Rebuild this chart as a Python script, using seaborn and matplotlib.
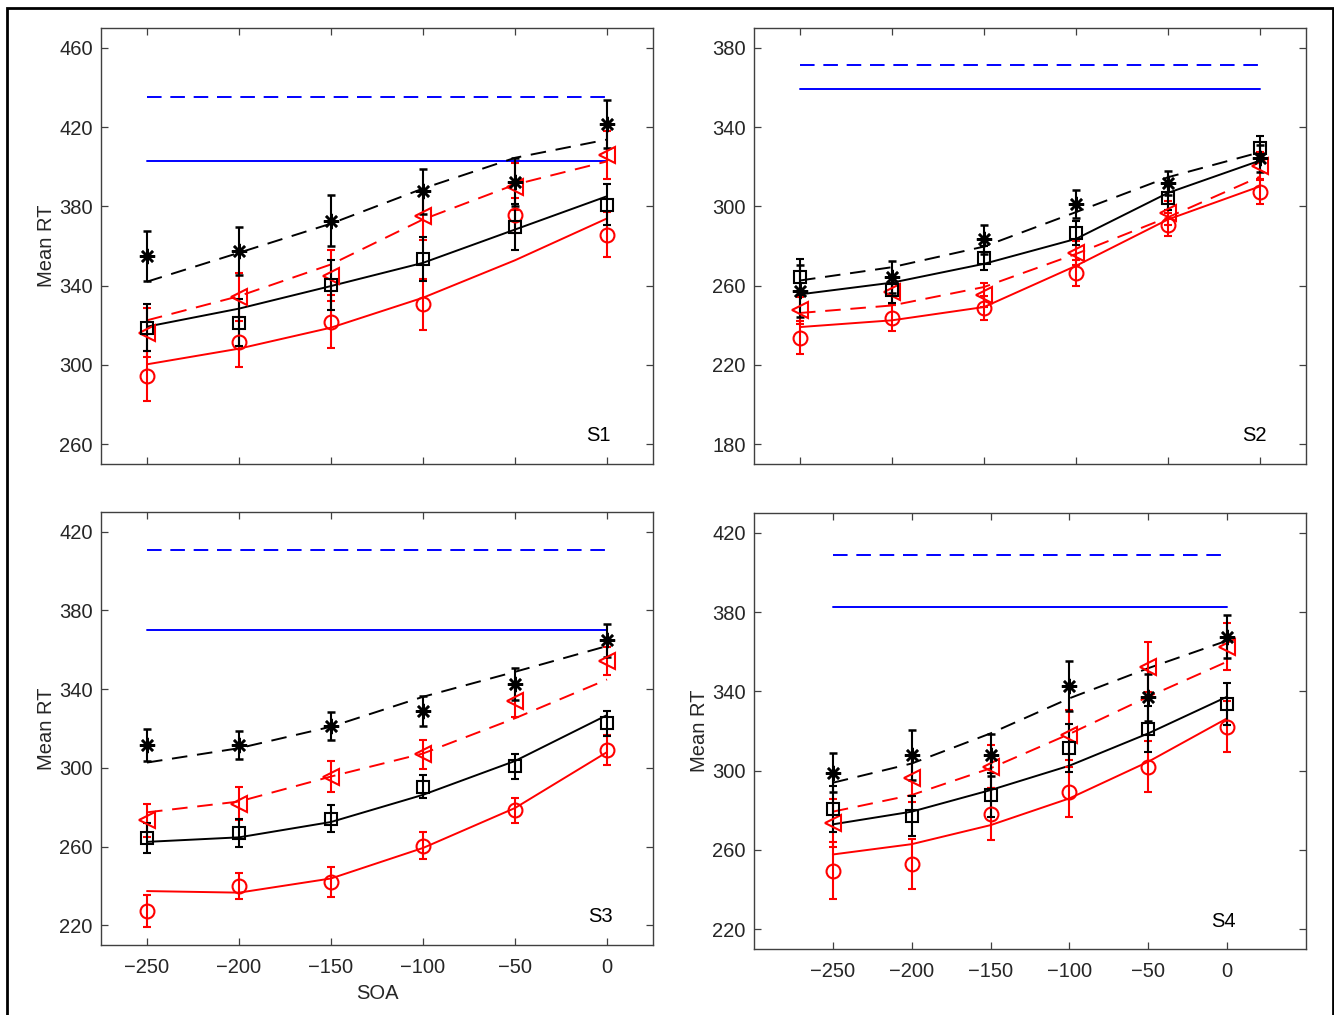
import numpy as np
import pandas as pd
import matplotlib
matplotlib.use("Agg")
import matplotlib.pyplot as plt
from matplotlib.patches import Rectangle
import seaborn as sns

# ---------------- data ----------------
soa = [-250, -200, -150, -100, -50, 0]
subjects = ["S1", "S2", "S3", "S4"]

# black asterisks (data) and black dashed fit
star_mean = [[355.0, 357.4, 372.8, 387.5, 392.3, 421.7],
             [257.3, 264.3, 283.3, 301.2, 311.8, 324.2],
             [311.6, 311.6, 321.4, 328.9, 342.7, 364.8],
             [299.0, 307.9, 307.9, 342.7, 337.0, 367.6]]
star_err = [[12.8, 12.0, 13.0, 11.5, 12.0, 12.0],
            [13.0, 8.0, 7.5, 7.0, 6.0, 7.0],
            [8.0, 7.0, 7.0, 7.5, 8.0, 8.5],
            [10.0, 12.5, 10.5, 12.7, 12.0, 11.0]]
star_fit = [[342.0, 356.6, 371.3, 389.0, 404.5, 413.7],
            [262.6, 269.3, 279.7, 297.1, 314.7, 327.3],
            [302.7, 310.0, 320.9, 336.1, 348.8, 361.9],
            [293.9, 303.6, 318.8, 336.5, 351.7, 365.6]]

# red triangles (data) and red dashed fit
tri_mean = [[316.3, 334.2, 345.1, 375.0, 390.0, 406.0],
            [247.5, 257.0, 255.4, 276.6, 296.7, 320.6],
            [273.3, 281.8, 295.6, 306.9, 333.9, 354.3],
            [273.7, 296.1, 302.0, 318.0, 352.2, 362.6]]
tri_err = [[12.5, 12.0, 13.0, 12.0, 12.0, 12.0],
           [7.0, 7.0, 6.0, 6.0, 6.0, 7.0],
           [8.5, 8.5, 8.0, 7.5, 8.0, 7.0],
           [12.0, 12.0, 11.0, 12.5, 12.5, 12.0]]
tri_fit = [[322.5, 334.7, 350.7, 373.4, 391.0, 402.7],
           [246.2, 250.0, 259.3, 276.0, 294.5, 315.0],
           [277.4, 282.9, 295.6, 307.3, 325.2, 344.9],
           [279.3, 287.7, 301.2, 318.5, 337.3, 355.0]]

# black squares (data) and black solid fit
sq_mean = [[318.8, 321.3, 340.3, 353.5, 369.5, 380.9],
           [264.3, 258.0, 274.1, 286.6, 304.1, 329.5],
           [264.4, 266.9, 274.2, 290.5, 300.7, 322.6],
           [280.4, 277.2, 287.7, 311.3, 321.0, 333.5]]
sq_err = [[12.0, 12.0, 12.5, 11.0, 11.5, 10.5],
          [9.0, 7.0, 6.0, 6.0, 6.0, 6.0],
          [7.5, 7.0, 7.0, 6.0, 6.5, 6.5],
          [11.6, 10.0, 11.0, 12.0, 11.5, 10.7]]
sq_fit = [[319.3, 328.4, 339.8, 351.5, 368.3, 385.1],
          [255.6, 261.5, 271.0, 283.6, 306.8, 323.1],
          [262.4, 264.7, 272.5, 286.3, 303.5, 326.8],
          [272.9, 279.3, 290.2, 302.5, 318.8, 337.3]]

# red circles (data) and red solid fit
circ_mean = [[294.4, 311.7, 321.8, 330.5, 375.4, 365.8],
             [233.8, 243.6, 248.9, 266.5, 290.8, 307.1],
             [227.3, 239.9, 241.9, 260.5, 278.4, 309.1],
             [249.5, 252.8, 278.1, 289.3, 302.0, 322.2]]
circ_err = [[12.5, 12.7, 13.5, 13.0, 9.0, 11.5],
            [8.5, 6.5, 6.0, 6.5, 6.0, 6.0],
            [8.0, 6.5, 7.5, 7.0, 6.5, 7.5],
            [14.4, 12.6, 13.0, 12.6, 13.0, 13.0]]
circ_fit = [[300.3, 308.2, 318.8, 333.9, 352.8, 373.9],
            [239.1, 242.5, 249.2, 270.0, 293.4, 310.1],
            [237.4, 236.6, 243.8, 259.3, 279.6, 308.0],
            [257.7, 262.9, 272.5, 286.0, 304.5, 326.4]]

# blue horizontal reference levels
blue_dashed = [435.0, 371.4, 410.9, 408.9]
blue_solid = [403.0, 359.3, 370.0, 382.8]
blue_span = [-250, 0]

# axis settings
ylims = [(250, 470), (170, 390), (210, 430), (210, 430)]
yticks = [[260, 300, 340, 380, 420, 460],
          [180, 220, 260, 300, 340, 380],
          [220, 260, 300, 340, 380, 420],
          [220, 260, 300, 340, 380, 420]]
xlims = [(-275, 25), (-275, 25), (-275, 25), (-300, 50)]
xticks = [-250, -200, -150, -100, -50, 0]

# ---------------- style ----------------
sns.set_theme(style="ticks")
plt.rcParams['font.family'] = ['Liberation Sans', 'DejaVu Sans']
plt.rcParams['axes.unicode_minus'] = True

W, H = 1334, 1015
fig = plt.figure(figsize=(W / 100, H / 100), dpi=100)
fig.patch.set_facecolor('white')

# pixel boxes: left, top, right, bottom
boxes = [(101, 28, 653, 464), (754, 28, 1306, 464),
         (101, 512, 653, 945), (754, 513, 1306, 949)]
label_pos = [(0.924, 0.066), (0.928, 0.066), (0.928, 0.066), (0.873, 0.064)]

FS = 14.5
TXT = '#262626'
for i, (l, t, r, b) in enumerate(boxes):
    ax = fig.add_axes([l / W, 1 - b / H, (r - l) / W, (b - t) / H])
    ax.set_facecolor('white')

    # blue reference lines
    sns.lineplot(x=blue_span, y=[blue_dashed[i]] * 2, ax=ax, color='blue',
                 linewidth=1.4, linestyle=(0, (7.5, 4.5)), legend=False)
    sns.lineplot(x=blue_span, y=[blue_solid[i]] * 2, ax=ax, color='blue',
                 linewidth=1.4, legend=False)

    # model fits
    sns.lineplot(x=soa, y=star_fit[i], ax=ax, color='black', linewidth=1.4,
                 linestyle=(0, (8, 5)), legend=False)
    sns.lineplot(x=soa, y=tri_fit[i], ax=ax, color='red', linewidth=1.4,
                 linestyle=(0, (8, 5)), legend=False)
    sns.lineplot(x=soa, y=sq_fit[i], ax=ax, color='black', linewidth=1.4,
                 legend=False)
    sns.lineplot(x=soa, y=circ_fit[i], ax=ax, color='red', linewidth=1.4,
                 legend=False)

    # data with error bars
    common = dict(linestyle='none', capsize=3.0, elinewidth=1.5, capthick=1.5)
    ax.errorbar(soa, circ_mean[i], yerr=circ_err[i], fmt='o', color='red',
                mfc='none', ms=10, markeredgewidth=1.5, **common)
    ax.errorbar(soa, tri_mean[i], yerr=tri_err[i], fmt='<', color='red',
                mfc='none', ms=11.5, markeredgewidth=1.5, **common)
    ax.errorbar(soa, sq_mean[i], yerr=sq_err[i], fmt='s', color='black',
                mfc='none', ms=8, markeredgewidth=1.5, **common)
    ax.errorbar(soa, star_mean[i], yerr=star_err[i], marker=(8, 2, 0),
                color='black', ms=11, markeredgewidth=1.8, **common)

    ax.set_xlim(*xlims[i])
    ax.set_ylim(*ylims[i])
    ax.set_xticks(xticks)
    ax.set_yticks(yticks[i])
    ax.tick_params(direction='in', top=True, right=True, length=5, width=0.9,
                   color='#404040', labelcolor=TXT, labelsize=FS)
    ax.tick_params(axis='y', pad=6)
    ax.tick_params(axis='x', pad=9.5)
    for s in ax.spines.values():
        s.set_visible(True)
        s.set_color('#404040')
        s.set_linewidth(1.0)

    if i in (0, 1):
        ax.set_xticklabels([])
    if i != 1:
        ax.set_ylabel('Mean RT', fontsize=FS, color=TXT, labelpad=2.5)
    else:
        ax.set_ylabel('')
    if i == 2:
        ax.set_xlabel('SOA', fontsize=FS, color=TXT, labelpad=5)
    else:
        ax.set_xlabel('')

    ax.text(label_pos[i][0], label_pos[i][1], subjects[i], transform=ax.transAxes,
            ha='right', va='center', fontsize=FS, color='black')

# outer frame
fig.add_artist(Rectangle((7 / W, -0.02), (1333 - 7) / W, 1 - 8 / H + 0.02,
                         transform=fig.transFigure, fill=False,
                         linewidth=2.0, edgecolor='black'))

fig.savefig('out.png', dpi=100, facecolor='white')
